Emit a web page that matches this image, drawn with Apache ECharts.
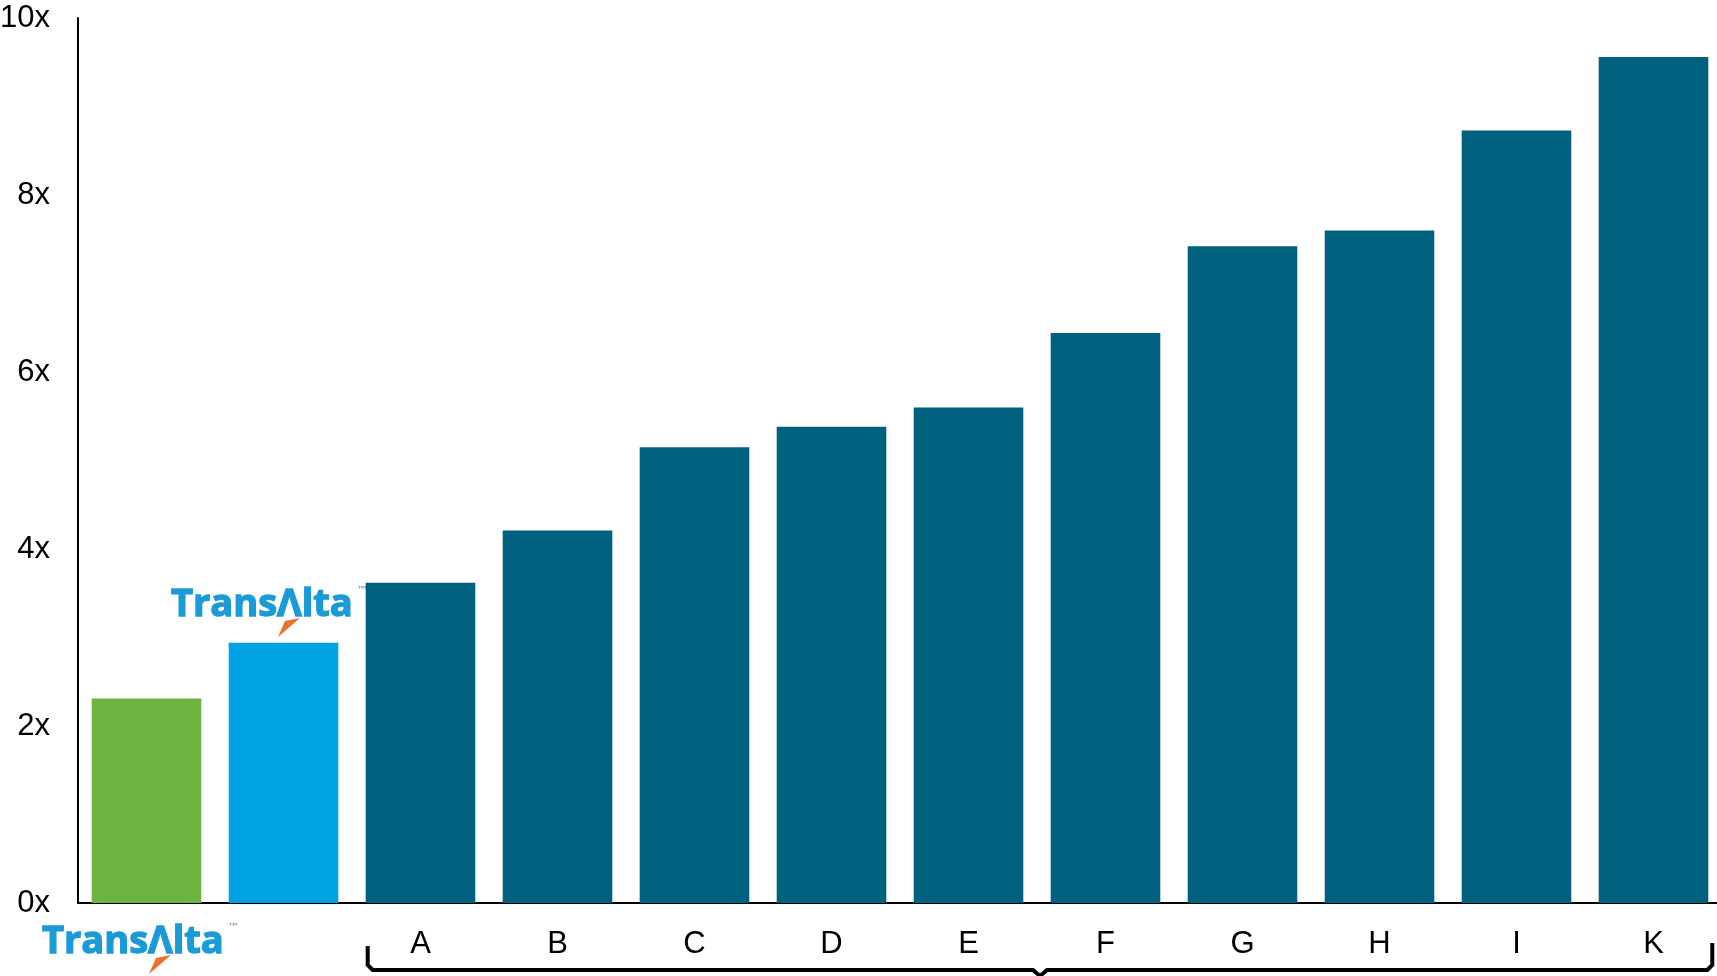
<!DOCTYPE html>
<html>
<head>
<meta charset="utf-8">
<title>Multiples</title>
<script src="https://cdn.jsdelivr.net/npm/echarts@6/dist/echarts.min.js"></script>
<style>
  html, body { margin: 0; padding: 0; background: #fff; }
  #chart { width: 1717px; height: 976px; }
</style>
</head>
<body>
<div id="chart"></div>
<script>
// values
const categories = ['Peer', 'TransAlta', 'A', 'B', 'C', 'D', 'E', 'F', 'G', 'H', 'I', 'K'];
const values = [2.31, 2.94, 3.62, 4.21, 5.15, 5.38, 5.6, 6.44, 7.42, 7.6, 8.73, 9.56];
const yMin = 0;
const yMax = 10;
const yStep = 2;

const GREEN = '#6DB33F';
const BLUE = '#00A3E2';
const DARK = '#00617F';
const LOGO = '#1A9BD7';
const ORANGE = '#E8722C';

const myChart = echarts.init(document.getElementById('chart'), null, { renderer: 'canvas' });

const barData = values.map(function (v, i) {
    return {
        value: v,
        itemStyle: { color: i === 0 ? GREEN : (i === 1 ? BLUE : DARK) }
    };
});

myChart.setOption({
    animation: false,
    grid: { left: 78, top: 18, width: 1644, height: 885, containLabel: false, outerBoundsMode: 'none' },
    xAxis: {
        type: 'category',
        data: categories,
        axisLine: { show: true, lineStyle: { color: '#000', width: 2 } },
        axisTick: { show: false },
        axisLabel: {
            interval: 0,
            margin: 26,
            color: '#000',
            fontSize: 31,
            fontFamily: 'Liberation Sans, Arial, sans-serif',
            formatter: function (v, i) { return i < 2 ? '' : v; }
        }
    },
    yAxis: {
        type: 'value',
        min: yMin,
        max: yMax,
        interval: yStep,
        axisLine: { show: true, lineStyle: { color: '#000', width: 2 } },
        axisTick: { show: false },
        splitLine: { show: false },
        axisLabel: {
            margin: 28,
            color: '#000',
            fontSize: 31,
            fontFamily: 'Liberation Sans, Arial, sans-serif',
            formatter: '{value}x'
        }
    },
    series: [
        {
            type: 'bar',
            barCategoryGap: '20%',
            data: barData
        }
    ]
});

// TransAlta wordmark: text + orange arrow + TM
function logo(x, y) {
    return {
        type: 'group',
        x: x,
        y: y,
        children: [
            {
                type: 'text',
                x: -1, y: 17,
                style: {
                    text: 'TransΛlta',
                    fill: LOGO,
                    stroke: LOGO,
                    lineWidth: 1.3,
                    font: 'bold 38px "Open Sans", sans-serif',
                    textVerticalAlign: 'middle'
                }
            },
            {
                type: 'polygon',
                shape: { points: [[113, 33], [128, 30], [106, 49]] },
                style: { fill: ORANGE }
            },
            {
                type: 'text',
                x: 185, y: -2,
                style: { text: '™', fill: '#888', font: '11px "DejaVu Sans", sans-serif' }
            }
        ]
    };
}

// bracket under A..K, anchored to the axis
const xA = myChart.convertToPixel({ xAxisIndex: 0 }, 'A');
const xK = myChart.convertToPixel({ xAxisIndex: 0 }, 'K');
const band = (xK - xA) / 9;
const left = xA - band * 0.4 + 2;
const right = xK + band * 0.4 + 4;
const mid = (left + right) / 2;

myChart.setOption({
    graphic: [
        logo(172, 588),
        logo(43, 925),
        {
            type: 'polyline',
            shape: {
                points: [
                    [left, 946], [left, 965], [left + 5, 970],
                    [mid - 7, 970], [mid, 976], [mid + 7, 970],
                    [right - 5, 970], [right, 965], [right, 943]
                ]
            },
            style: { stroke: '#000', lineWidth: 4, fill: null }
        }
    ]
});
</script>
</body>
</html>
